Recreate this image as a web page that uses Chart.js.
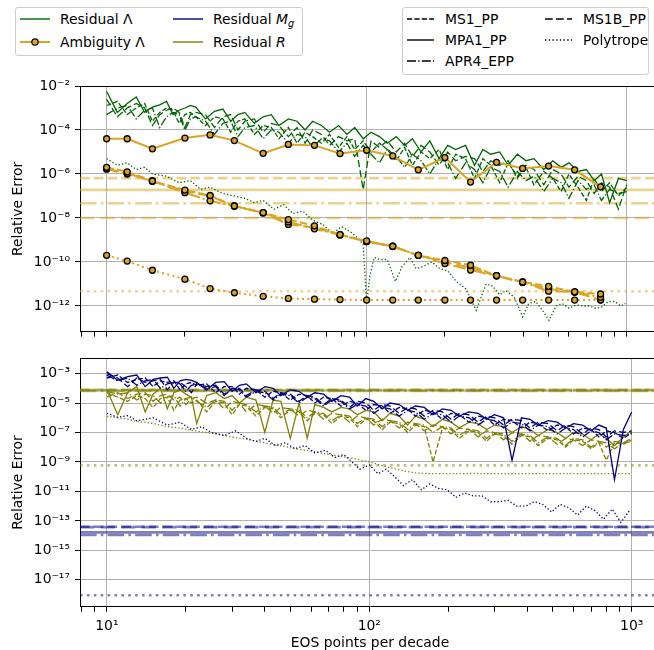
<!DOCTYPE html>
<html>
<head>
<meta charset="utf-8">
<script src="https://cdn.jsdelivr.net/npm/chart.js@4/dist/chart.umd.min.js"></script>
<style>
  html, body { margin: 0; padding: 0; background: #fff; }
  body { width: 654px; height: 650px; overflow: hidden; position: relative; font-family: "DejaVu Sans", sans-serif; color: #000; }
  canvas { position: absolute; left: 0; }
  #topChart { top: 0; }
  #botChart { top: 345px; }
  .box { position: absolute; border: 1px solid #cccccc; border-radius: 3px; background: #fff; z-index: 2; }
  .smp { position: absolute; z-index: 3; }
  .lt { position: absolute; z-index: 3; font-size: 13.9px; line-height: 18px; white-space: nowrap; }
  .lt sub { font-size: 9.7px; line-height: 0; vertical-align: -3px; font-style: italic; }
</style>
</head>
<body>
<canvas id="topChart" width="660" height="345"></canvas>
<canvas id="botChart" width="660" height="305"></canvas>

<!-- legend: quantities -->
<div class="box" style="left:15px;top:7px;width:286px;height:47px"></div>
<svg class="smp" style="left:20px;top:11px" width="30" height="16"><line x1="0" y1="8" x2="30" y2="8" stroke="#006400" stroke-width="1.4"/></svg>
<span class="lt" style="left:60px;top:10px">Residual Λ</span>
<svg class="smp" style="left:20px;top:34px" width="30" height="16"><line x1="0" y1="8" x2="30" y2="8" stroke="#daa520" stroke-width="2"/><circle cx="15" cy="8" r="3.2" fill="#daa520" stroke="#000" stroke-width="1.2"/></svg>
<span class="lt" style="left:60px;top:33px">Ambiguity Λ</span>
<svg class="smp" style="left:173px;top:11px" width="30" height="16"><line x1="0" y1="8" x2="30" y2="8" stroke="#000080" stroke-width="1.4"/></svg>
<span class="lt" style="left:213px;top:10px">Residual <i>M</i><sub>g</sub></span>
<svg class="smp" style="left:173px;top:34px" width="30" height="16"><line x1="0" y1="8" x2="30" y2="8" stroke="#808000" stroke-width="1.4"/></svg>
<span class="lt" style="left:213px;top:33px">Residual <i>R</i></span>

<!-- legend: equations of state -->
<div class="box" style="left:402px;top:7px;width:245px;height:66px"></div>
<svg class="smp" style="left:407px;top:11px" width="27" height="16"><line x1="0" y1="8" x2="27" y2="8" stroke="#000" stroke-width="1.4" stroke-dasharray="5.2 2.2"/></svg>
<span class="lt" style="left:445px;top:10px">MS1_PP</span>
<svg class="smp" style="left:407px;top:32px" width="27" height="16"><line x1="0" y1="8" x2="27" y2="8" stroke="#000" stroke-width="1.4"/></svg>
<span class="lt" style="left:445px;top:31px">MPA1_PP</span>
<svg class="smp" style="left:407px;top:53px" width="27" height="16"><line x1="0" y1="8" x2="27" y2="8" stroke="#000" stroke-width="1.4" stroke-dasharray="9 2.2 1.4 2.2"/></svg>
<span class="lt" style="left:445px;top:52px">APR4_EPP</span>
<svg class="smp" style="left:545px;top:11px" width="27" height="16"><line x1="0" y1="8" x2="27" y2="8" stroke="#000" stroke-width="1.4" stroke-dasharray="7.7 3.3"/></svg>
<span class="lt" style="left:583px;top:10px">MS1B_PP</span>
<svg class="smp" style="left:545px;top:32px" width="27" height="16"><line x1="0" y1="8" x2="27" y2="8" stroke="#000" stroke-width="1.4" stroke-dasharray="1.4 2.3"/></svg>
<span class="lt" style="left:583px;top:31px">Polytrope</span>

<script>
// x axis (EOS points per decade)
const X_MIN = 7.9;
const X_MAX = 1282;
const xMajor = [10, 100, 1000];
const xMajorLabels = ['10¹', '10²', '10³'];
const xMinor = [8, 9, 20, 30, 40, 50, 60, 70, 80, 90, 200, 300, 400, 500, 600, 700, 800, 900];

// y ticks
const topYTicks = [1e-12, 1e-10, 1e-8, 1e-6, 1e-4, 1e-2];
const topYLabels = ['10⁻¹²', '10⁻¹⁰', '10⁻⁸', '10⁻⁶', '10⁻⁴', '10⁻²'];
const botYTicks = [1e-17, 1e-15, 1e-13, 1e-11, 1e-9, 1e-7, 1e-5, 1e-3];
const botYLabels = ['10⁻¹⁷', '10⁻¹⁵', '10⁻¹³', '10⁻¹¹', '10⁻⁹', '10⁻⁷', '10⁻⁵', '10⁻³'];

// sample grid shared by the residual curves of the four tabulated EOS
const xRes = [10,11,12,13,14,15,16,17,18,19,20,21,22,24,26,28,30,32,34,37,40,43,46,50,54,58,62,67,72,78,
  84,90,97,104,112,120,130,140,150,162,175,190,205,220,240,260,280,300,325,350,380,410,440,480,520,560,600,650,700,750,
  800,860,930,1000];

// ---- top panel: Lambda ----
const resLamMS1 = [1.3e-3,2e-3,5e-4,1e-3,1.6e-3,2.5e-4,6.3e-4,1e-3,7.9e-4,2e-4,
  5e-4,6.3e-4,4e-4,1.6e-4,4e-4,3.2e-4,7.9e-5,2.5e-4,3.2e-4,6.3e-5,
  1.6e-4,1.3e-4,4e-5,1.3e-4,2.5e-5,7.9e-5,5e-5,2.5e-5,6.3e-5,1.6e-5,
  5e-5,1.3e-5,3.2e-5,1e-5,2.5e-5,1.3e-5,4e-6,1.6e-5,2.5e-6,1e-5,
  5e-6,1.3e-5,1.6e-6,7.9e-6,5e-6,6.3e-7,5e-6,2.5e-6,4e-7,3.2e-6,
  7.9e-7,2e-6,3.2e-7,1.3e-6,6.3e-7,1.6e-7,1e-6,2.5e-7,6.3e-8,6.3e-7,
  1.6e-7,4e-7,1e-7,2.5e-7];
const resLamMPA1 = [5.6e-3,6.3e-4,1.6e-3,3.2e-3,6.3e-4,1.1e-3,1.4e-3,2e-3,5e-4,7.9e-4,
  1e-3,1.3e-3,1.1e-3,3.2e-4,7.1e-4,8.9e-4,2.5e-4,5e-4,6.3e-4,2e-4,
  4e-4,5e-4,1.6e-4,3.2e-4,2.5e-4,1e-4,2.5e-4,1.6e-4,7.9e-5,1.6e-4,
  6.3e-5,1.3e-4,4e-5,7.9e-5,5e-5,2.5e-5,5e-5,2e-5,4e-5,1e-5,
  3.2e-5,5e-6,2e-5,1.3e-5,2e-5,2.5e-6,1.3e-5,7.9e-6,1e-5,2.5e-6,
  7.9e-6,4e-6,5e-6,1.6e-6,4e-6,2e-6,3.2e-6,1.3e-6,1.6e-6,5e-7,
  1e-6,5e-8,6.3e-7,5e-7];
const resLamAPR4 = [5e-4,1e-3,1.3e-3,3.2e-4,7.9e-4,1e-3,1.3e-4,4e-4,6.3e-4,5e-4,
  1e-4,3.2e-4,4e-4,2.5e-4,6.3e-5,2e-4,2.5e-4,5e-5,1.3e-4,1.6e-4,
  4e-5,1e-4,7.9e-5,2.5e-5,6.3e-5,5e-5,1.6e-5,4e-5,3.2e-5,1e-5,
  2.5e-5,6.3e-6,2e-5,7.9e-6,3.2e-6,1.3e-5,6.3e-6,2e-6,7.9e-6,4e-6,
  1e-6,5e-6,3.2e-6,6.3e-7,3.2e-6,1.6e-6,4e-7,2e-6,1.3e-6,2.5e-7,
  1.3e-6,5e-7,7.9e-7,1.6e-7,6.3e-7,4e-7,7.9e-8,5e-7,2e-7,3.2e-7,
  6.3e-8,2e-7,1.3e-7,1.6e-7];
const resLamMS1B = [2.5e-3,4e-4,1e-3,1.6e-3,1e-3,1.6e-4,5e-4,7.9e-4,1e-3,6.3e-4,
  1.3e-4,5e-4,6.3e-4,5e-4,1.3e-4,4e-4,5e-4,1e-4,2.5e-4,3.2e-4,
  7.9e-5,2e-4,1.6e-4,5e-5,1.3e-4,2.5e-5,1e-4,6.3e-5,2e-5,5e-5,
  3.2e-5,4e-5,2e-7,3.2e-5,1.6e-5,3.2e-5,1e-5,2.5e-5,6.3e-6,2e-5,
  1e-5,2.5e-6,1e-5,4e-6,6.3e-6,5e-6,1.3e-6,4e-6,2.5e-6,4e-6,
  6.3e-7,2.5e-6,1.6e-6,3.2e-7,1.6e-6,1e-6,2.5e-7,7.9e-7,5e-7,1.3e-7,
  4e-7,2.5e-7,2.5e-8,3.2e-7];
const xResLamPoly = [10,11,12,13,14,15,17,19,21,23,25,28,31,34,37,40,44,48,52,57,62,68,74,80,86,92,97,100,103,107,
  112,120,129,137,147,155,165,178,191,205,221,240,264,288,306,325,343,370,398,420,447,475,503,535,565,600,640,680,715,760,
  801,850,901,950,990];
const resLamPoly = [5e-6,2.5e-6,3.2e-6,1.6e-6,2e-6,1e-6,7.9e-7,4e-7,5e-7,2e-7,
  2.5e-7,1.3e-7,1e-7,7.9e-8,5e-8,6.3e-8,2.5e-8,4e-8,1.6e-8,2e-8,
  7.9e-9,5e-9,2e-9,4e-9,2.5e-9,1.3e-9,6.3e-10,1.3e-12,2.5e-11,1.6e-10,
  1.3e-10,1.3e-10,1.3e-11,6.3e-11,1.6e-10,5e-11,6.3e-11,1e-10,5e-11,4e-11,
  1.3e-11,6.3e-12,6.3e-13,1e-11,7.9e-12,3.2e-12,5e-12,2.5e-12,3.2e-13,1.3e-12,
  1.6e-12,6.3e-13,2.2e-13,1e-12,1.3e-12,7.9e-13,1.1e-12,1e-12,1e-12,7.9e-13,
  8.9e-13,1.6e-12,1.6e-12,1e-12,1.3e-12];

const ambX = [10,12,15,20,25,31,40,50,63,79,100,126,158,200,251,316,398,501,631,794];
const ambMS1 = [2e-6,1.26e-6,4.8e-7,1.86e-7,1.05e-7,3.5e-8,1.74e-8,8.5e-9,4.4e-9,1.74e-9,9.1e-10,5.2e-10,2e-10,1.17e-10,7.1e-11,2.4e-11,1.23e-11,7.8e-12,4.4e-12,3.5e-12];
const ambMPA1 = [4e-5,4e-5,1.4e-5,4.3e-5,6e-5,3.3e-5,8.7e-6,2.2e-5,2e-5,8.5e-6,1.2e-5,6.6e-6,1.55e-6,5.6e-6,4.3e-7,3.4e-6,1.8e-6,2.3e-6,1.55e-6,2.6e-7];
const ambAPR4 = [1.78e-6,1.07e-6,4.8e-7,1.41e-7,6e-8,3.5e-8,1.74e-8,6.6e-9,3.2e-9,1.74e-9,8.5e-10,5.2e-10,2e-10,8.5e-11,4.3e-11,2.4e-11,1.23e-11,4.7e-12,4.4e-12,2.5e-12];
const ambMS1B = [1.66e-6,1e-6,4.7e-7,1.66e-7,1e-7,3.5e-8,1.7e-8,5.1e-9,3.7e-9,1.7e-9,8.5e-10,5e-10,2e-10,1e-10,5.6e-11,2.3e-11,1.17e-11,6e-12,4.2e-12,1.9e-12];
const ambPoly = [2e-10,1.1e-10,4.2e-11,1.66e-11,6.2e-12,4e-12,2.75e-12,2.2e-12,2.04e-12,1.95e-12,1.86e-12,1.86e-12,1.86e-12,1.86e-12,1.86e-12,1.86e-12,1.86e-12,1.86e-12,1.86e-12,1.86e-12];

// horizontal reference levels, order: MS1, MPA1, APR4, MS1B, Polytrope
const refLam = [6.5e-7, 1.9e-7, 4.7e-8, 1e-8, 4.7e-12];

// ---- bottom panel: Mg and R ----
const resMgMS1 = [5e-4,7.9e-4,2.5e-4,4e-4,5e-4,1.3e-4,3.2e-4,2.5e-4,3.2e-4,7.9e-5,
  2e-4,2.5e-4,1.6e-4,2e-4,5e-5,1.3e-4,1.3e-4,4e-5,1e-4,7.9e-5,
  2.5e-5,6.3e-5,5e-5,1.6e-5,4e-5,3.2e-5,1e-5,2.5e-5,2e-5,6.3e-6,
  1.3e-5,1e-5,3.2e-6,7.9e-6,6.3e-6,2e-6,5e-6,4e-6,1.3e-6,3.2e-6,
  2.5e-6,7.9e-7,2e-6,1.6e-6,5e-7,1.3e-6,1e-6,3.2e-7,7.9e-7,6.3e-7,
  2e-7,5e-7,4e-7,1.3e-7,3.2e-7,2.5e-7,7.9e-8,2e-7,1.6e-7,5e-8,
  1.3e-7,1e-7,4e-8,1e-7];
const resMgMPA1 = [1.3e-3,3.5e-4,6.3e-4,7.9e-4,1.3e-4,4e-4,5e-4,5.6e-4,1e-4,3.2e-4,
  4e-4,3.5e-4,2.5e-4,7.9e-5,2.5e-4,2.8e-4,6.3e-5,1.6e-4,2e-4,5e-5,
  1.3e-4,1e-4,3.2e-5,7.9e-5,6.3e-5,2.5e-5,5e-5,4e-5,1.3e-5,3.2e-5,
  2.5e-5,6.3e-6,2e-5,1.3e-5,4e-6,1e-5,7.9e-6,3.2e-6,6.3e-6,5e-6,
  1.6e-6,4e-6,3.2e-6,1.3e-6,2.5e-6,2e-6,7.9e-7,1.6e-6,1e-6,1.3e-9,
  1e-6,7.9e-7,3.2e-7,6.3e-7,5e-7,2e-7,4e-7,3.2e-7,1.3e-7,3.2e-7,
  2e-7,6.3e-11,1.6e-7,2.5e-6];
const resMgAPR4 = [7.9e-4,3.2e-4,5e-4,1.6e-4,3.2e-4,4e-4,1e-4,2e-4,2.5e-4,2e-4,
  6.3e-5,1.6e-4,2e-4,1e-4,1.3e-4,3.2e-5,1e-4,7.9e-5,2.5e-5,6.3e-5,
  5e-5,1.6e-5,4e-5,3.2e-5,1e-5,2.5e-5,2e-5,6.3e-6,1.6e-5,1.3e-5,
  4e-6,7.9e-6,6.3e-6,2e-6,5e-6,4e-6,1.3e-6,3.2e-6,2.5e-6,7.9e-7,
  2e-6,1.6e-6,5e-7,1.3e-6,1e-6,3.2e-7,7.9e-7,6.3e-7,2e-7,5e-7,
  4e-7,1.3e-7,3.2e-7,2.5e-7,7.9e-8,2e-7,1.6e-7,5e-8,1.3e-7,1e-7,
  3.2e-8,7.9e-8,6.3e-8,7.9e-8];
const resMgMS1B = [1e-3,5e-4,1.3e-4,5e-4,2.5e-4,3.2e-4,4e-4,7.9e-5,2.5e-4,2.5e-4,
  1.3e-4,5e-5,2e-4,1.3e-4,1.6e-4,4e-5,1e-4,1e-4,3.2e-5,7.9e-5,
  6.3e-5,2e-5,5e-5,4e-5,1.3e-5,3.2e-5,2.5e-5,7.9e-6,2e-5,1.6e-5,
  5e-6,1.3e-5,1e-5,3.2e-6,7.9e-6,6.3e-6,2e-6,5e-6,4e-6,1.3e-6,
  3.2e-6,2.5e-6,7.9e-7,2e-6,1.6e-6,5e-7,1.3e-6,1e-6,3.2e-7,7.9e-7,
  6.3e-7,2e-7,5e-7,4e-7,1.3e-7,3.2e-7,2.5e-7,7.9e-8,2e-7,1.6e-7,
  5e-8,1.3e-7,1e-7,1.3e-7];
const xResMgPoly = [10,11,12,13,14,15,17,19,21,23,25,28,31,34,37,40,44,48,52,57,62,68,74,80,86,92,100,108,116,125,
  135,146,158,170,184,198,214,231,249,269,290,313,338,365,394,425,459,495,534,576,622,671,724,781,843,910,980];
const resMgPoly = [2e-6,1.1e-6,1.4e-6,6.3e-7,7.9e-7,1e-6,3.2e-7,5e-7,1.6e-7,2.5e-7,
  1e-7,6.3e-8,1.3e-7,4e-8,2.5e-8,4e-8,1.3e-8,2e-8,7.9e-9,1.3e-8,
  4e-9,6.3e-9,2e-9,3.2e-9,1e-9,3.2e-10,6.3e-10,1.6e-10,3.2e-10,1e-10,
  2.5e-11,6.3e-11,1.3e-11,3.2e-11,1.6e-11,1.3e-11,4e-12,7.9e-12,5e-12,5e-12,
  2e-12,2e-12,2.5e-12,1e-12,1e-12,2e-12,1.3e-12,4e-13,1.3e-12,7.9e-13,
  2.5e-13,1e-12,5e-13,1.3e-13,6.3e-13,7.9e-14,5e-13];

const resRMS1 = [5e-5,2.5e-5,1.3e-5,3.2e-5,2e-5,5e-6,2e-5,2.5e-5,3.2e-6,1.6e-5,
  2e-5,1e-5,1.6e-5,2.5e-6,1.3e-5,1e-5,1.6e-6,7.9e-6,6.3e-6,1.3e-6,
  5e-6,4e-6,1e-6,3.2e-6,2.5e-6,6.3e-7,2e-6,1.6e-6,4e-7,1.3e-6,
  1e-6,2.5e-7,7.9e-7,6.3e-7,1.6e-7,5e-7,4e-7,1e-7,3.2e-7,2.5e-7,
  1e-9,2e-7,1.6e-7,4e-8,1.3e-7,1e-7,2.5e-8,7.9e-8,6.3e-8,1.6e-8,
  6.3e-8,5e-8,1.3e-8,4e-8,3.2e-8,1e-8,3.2e-8,2.5e-8,7.9e-9,2e-8,
  1.3e-9,2e-8,1.6e-8,3.2e-8];
const resRMPA1 = [7.9e-5,1.6e-6,5e-5,1.3e-4,2.5e-6,4e-5,1e-4,4e-6,5e-5,7.9e-5,
  4e-5,2.5e-5,4e-7,3.2e-5,5e-5,2e-5,3.2e-5,1e-5,2.5e-5,1.6e-5,
  1e-7,1.6e-5,1.3e-5,4e-8,1e-5,4e-8,7.9e-6,5e-6,2.5e-6,5e-6,
  4e-6,1.6e-6,3.2e-6,2.5e-6,6.3e-7,2e-6,1.3e-6,3.2e-7,1.3e-6,7.9e-7,
  2.5e-7,7.9e-7,5e-7,2e-7,5e-7,4e-7,1.6e-7,3.2e-7,2.5e-7,1e-7,
  2.5e-7,1.6e-7,6.3e-8,1.6e-7,1e-7,4e-8,1e-7,7.9e-8,3.2e-8,7.9e-8,
  4e-8,1.3e-8,5e-8,1.3e-7];
const resRAPR4 = [6.3e-5,4e-5,5e-5,1.6e-5,4e-5,3.2e-5,1e-5,2.5e-5,3.2e-5,6.3e-6,
  2e-5,2.5e-5,1.3e-5,5e-6,1.6e-5,1.3e-5,3.2e-6,1e-5,7.9e-6,2.5e-6,
  6.3e-6,5e-6,1.6e-6,4e-6,3.2e-6,1e-6,2.5e-6,2e-6,6.3e-7,1.6e-6,
  1.3e-6,4e-7,1e-6,7.9e-7,2.5e-7,6.3e-7,5e-7,1.6e-7,4e-7,3.2e-7,
  1e-7,2.5e-7,2e-7,6.3e-8,1.6e-7,1.3e-7,4e-8,1e-7,7.9e-8,2.5e-8,
  7.9e-8,6.3e-8,2e-8,5e-8,4e-8,1.3e-8,4e-8,3.2e-8,1e-8,2.5e-8,
  2e-8,7.9e-9,2e-8,2.5e-8];
const resRMS1B = [2.5e-5,5e-5,2e-5,4e-5,5e-5,1.3e-5,3.2e-5,4e-5,1.6e-5,2.5e-5,
  7.9e-6,2e-5,2.5e-5,1e-5,1.6e-5,4e-6,1.3e-5,1e-5,2.5e-6,7.9e-6,
  6.3e-6,2e-6,5e-6,4e-6,1.3e-6,3.2e-6,2.5e-6,7.9e-7,2e-6,1.6e-6,
  5e-7,1.3e-6,1e-6,3.2e-7,7.9e-7,6.3e-7,2e-7,5e-7,4e-7,1.3e-7,
  3.2e-7,2.5e-7,7.9e-8,2e-7,1.6e-7,5e-8,1.3e-7,1e-7,3.2e-8,1e-7,
  7.9e-8,2.5e-8,6.3e-8,5e-8,1.6e-8,4e-8,3.2e-8,1.3e-8,3.2e-8,2.5e-8,
  1e-8,2.5e-8,2e-8,4e-8];
const xResRPoly = [10,11,12,13,14,15,17,19,21,23,25,28,31,34,37,40,44,48,52,57,62,68,74,80,86,92,100,110,120,135,
  150,170,200,250,300,400,500,600,700,800,900,1000];
const resRPoly = [1.26e-6,1e-6,7.9e-7,5.6e-7,5e-7,4e-7,2.5e-7,2e-7,1.4e-7,1.1e-7,
  8.9e-8,6.3e-8,4.5e-8,3.5e-8,2.5e-8,2e-8,1.4e-8,1.1e-8,7.9e-9,6.3e-9,
  5e-9,3.5e-9,2.8e-9,2.2e-9,1.8e-9,1.4e-9,1e-9,6.3e-10,4e-10,2.5e-10,
  1.8e-10,1.6e-10,1.6e-10,1.66e-10,1.6e-10,1.6e-10,1.62e-10,1.6e-10,1.6e-10,1.6e-10,
  1.6e-10,1.6e-10];

const refMg = [4e-14, 1.66e-14, 1.1e-14, 3.8e-14, 8.9e-19];
const refR = [7.9e-5, 7.1e-5, 6.6e-5, 7.6e-5, 5.9e-10];

// ---- styling ----
const eosKeys = ['MS1', 'MPA1', 'APR4', 'MS1B', 'Poly'];
const DASH = { MS1: [3.7, 1.6], MPA1: [], APR4: [6.4, 1.6, 1, 1.6], MS1B: [5.5, 2.4], Poly: [1, 1.65] };
const GREEN = '#006400', GOLD = '#daa520', NAVY = '#000080', OLIVE = '#808000';
const GRID = '#b0b0b0';
const FONT = 13.9;

Chart.defaults.font.family = '"DejaVu Sans", sans-serif';
Chart.defaults.font.size = FONT;
Chart.defaults.color = '#000';

function series(xs, ys, color, key, lw, order, extra) {
  return Object.assign({
    data: xs.map((x, i) => ({ x: x, y: ys[i] })),
    borderColor: color,
    backgroundColor: color,
    borderWidth: lw,
    borderDash: DASH[key].map(d => d * lw),
    pointRadius: 0,
    tension: 0,
    fill: false,
    order: order
  }, extra || {});
}

function refLine(v, color, key) {
  return series([X_MIN, X_MAX], [v, v], color, key, 2.6, 3);
}

function xScale(showLabels, height) {
  return {
    type: 'logarithmic', min: X_MIN, max: X_MAX,
    afterBuildTicks: s => { s.ticks = xMinor.concat(xMajor).sort((a, b) => a - b).map(v => ({ value: v })); },
    afterFit: s => { s.height = height; },
    grid: {
      color: c => (c.tick && xMajor.includes(c.tick.value)) ? GRID : 'rgba(0,0,0,0)',
      tickColor: '#000', tickLength: 5, lineWidth: 1
    },
    border: { color: '#000', width: 1 },
    ticks: {
      display: showLabels, autoSkip: false, maxRotation: 0, padding: 6,
      callback: v => { const i = xMajor.indexOf(v); return i >= 0 ? xMajorLabels[i] : ''; }
    },
    title: { display: showLabels, text: 'EOS points per decade', padding: { top: 0, bottom: -2 } }
  };
}

function yScale(min, max, vals, labels) {
  return {
    type: 'logarithmic', min: min, max: max,
    afterBuildTicks: s => { s.ticks = vals.map(v => ({ value: v })); },
    afterFit: s => { s.width = 80; },
    grid: { color: GRID, tickColor: '#000', tickLength: 5, lineWidth: 1 },
    border: { color: '#000', width: 1 },
    ticks: { autoSkip: false, padding: 5, callback: v => labels[vals.indexOf(v)] },
    title: { display: true, text: 'Relative Error', padding: { top: 10, bottom: 0 } }
  };
}

const topSpine = {
  id: 'topSpine',
  afterDraw(chart) {
    const { ctx, chartArea: a } = chart;
    ctx.save();
    ctx.strokeStyle = '#000';
    ctx.lineWidth = 1;
    ctx.beginPath();
    ctx.moveTo(a.left, Math.round(a.top) + 0.5);
    ctx.lineTo(a.right, Math.round(a.top) + 0.5);
    ctx.stroke();
    ctx.restore();
  }
};

function baseOptions(padTop, xs, ys) {
  return {
    responsive: false, animation: false, devicePixelRatio: 1, events: [],
    layout: { padding: { top: padTop, left: 0, right: 0, bottom: 0 } },
    plugins: { legend: { display: false }, tooltip: { enabled: false } },
    scales: { x: xs, y: ys }
  };
}

// ---- top chart ----
const ambStyle = { pointRadius: 3, pointBackgroundColor: GOLD, pointBorderColor: '#000', pointBorderWidth: 1.3 };
const goldRef = 'rgba(218,165,32,0.5)';
const topSets = [
  series(ambX, ambMPA1, GOLD, 'MPA1', 2, 0, ambStyle),
  series(ambX, ambMS1, GOLD, 'MS1', 2, 0, ambStyle),
  series(ambX, ambAPR4, GOLD, 'APR4', 2, 0, ambStyle),
  series(ambX, ambMS1B, GOLD, 'MS1B', 2, 0, ambStyle),
  series(ambX, ambPoly, GOLD, 'Poly', 2, 0, ambStyle),
  series(xRes, resLamMPA1, GREEN, 'MPA1', 1.3, 1),
  series(xRes, resLamMS1, GREEN, 'MS1', 1.3, 1),
  series(xRes, resLamAPR4, GREEN, 'APR4', 1.3, 1),
  series(xRes, resLamMS1B, GREEN, 'MS1B', 1.3, 1),
  series(xResLamPoly, resLamPoly, GREEN, 'Poly', 1.3, 1)
].concat(refLam.map((v, i) => refLine(v, goldRef, eosKeys[i])));

new Chart(document.getElementById('topChart'), {
  type: 'line',
  data: { datasets: topSets },
  options: baseOptions(86, xScale(false, 6.5), yScale(6.8e-14, 1e-2, topYTicks, topYLabels)),
  plugins: [topSpine]
});

// ---- bottom chart ----
const navyRef = 'rgba(0,0,128,0.5)';
const oliveRef = 'rgba(128,128,0,0.5)';
const botSets = [
  series(xRes, resMgMPA1, NAVY, 'MPA1', 1.3, 1),
  series(xRes, resMgMS1, NAVY, 'MS1', 1.3, 1),
  series(xRes, resMgAPR4, NAVY, 'APR4', 1.3, 1),
  series(xRes, resMgMS1B, NAVY, 'MS1B', 1.3, 1),
  series(xResMgPoly, resMgPoly, NAVY, 'Poly', 1.3, 1),
  series(xRes, resRMPA1, OLIVE, 'MPA1', 1.3, 2),
  series(xRes, resRMS1, OLIVE, 'MS1', 1.3, 2),
  series(xRes, resRAPR4, OLIVE, 'APR4', 1.3, 2),
  series(xRes, resRMS1B, OLIVE, 'MS1B', 1.3, 2),
  series(xResRPoly, resRPoly, OLIVE, 'Poly', 1.3, 2)
].concat(refMg.map((v, i) => refLine(v, navyRef, eosKeys[i])))
 .concat(refR.map((v, i) => refLine(v, oliveRef, eosKeys[i])));

new Chart(document.getElementById('botChart'), {
  type: 'line',
  data: { datasets: botSets },
  options: baseOptions(7.7, xScale(true, 43.3), yScale(1.5e-19, 1.08e-2, botYTicks, botYLabels)),
  plugins: [topSpine]
});
</script>
</body>
</html>
